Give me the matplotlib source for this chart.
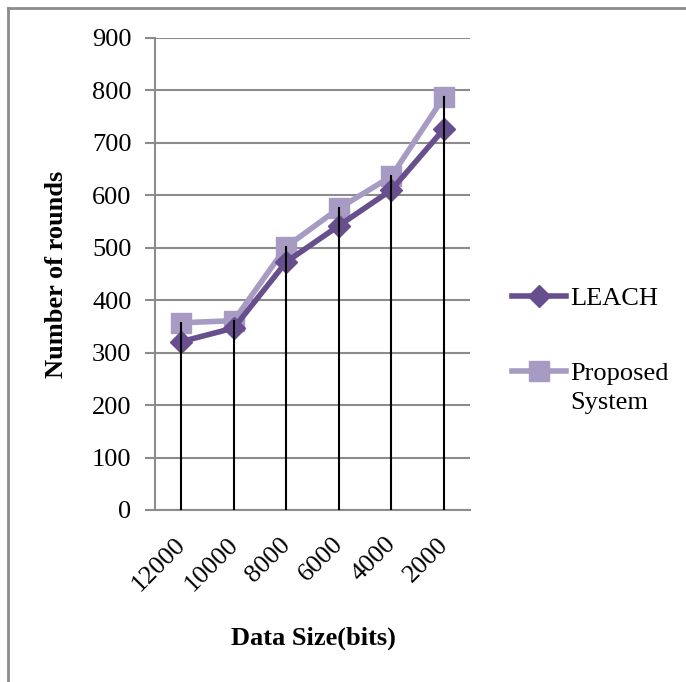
import matplotlib
matplotlib.use("Agg")
import matplotlib.pyplot as plt
from matplotlib.lines import Line2D

plt.rcParams['font.family'] = 'Liberation Serif'

# data
sizes = ['12000', '10000', '8000', '6000', '4000', '2000']
leach = [321, 347, 473, 542, 610, 726]
proposed = [357, 361, 502, 575, 636, 787]

leach_col = '#674F8E'
prop_col = '#A79AC3'
grid_col = '#8C8C8C'

fig = plt.figure(figsize=(6.86, 6.82), dpi=100)
W, H = 686, 682
ax = fig.add_axes([155 / W, 1 - 510 / H, 315 / W, 472 / H])

x = range(len(sizes))
# drop lines from the top point down to the axis
for i in x:
    ax.plot([i, i], [0, max(leach[i], proposed[i])], color='black', lw=1.5, zorder=4)

ax.plot(x, leach, color=leach_col, lw=4, marker='D', ms=11, zorder=3, label='LEACH')
ax.plot(x, proposed, color=prop_col, lw=4, marker='s', ms=15, zorder=2, label='Proposed System')

ax.set_xlim(-0.5, len(sizes) - 0.5)
ax.set_ylim(0, 900)
ax.set_yticks(range(0, 901, 100))
ax.grid(axis='y', color=grid_col, lw=1.5)
ax.set_axisbelow(True)
for s in ['top', 'right']:
    ax.spines[s].set_visible(False)
ax.spines['left'].set_color(grid_col)
ax.spines['left'].set_linewidth(1.5)
ax.spines['bottom'].set_color(grid_col)
ax.spines['bottom'].set_linewidth(1.5)
ax.tick_params(axis='y', length=7, width=1.5, color=grid_col, labelsize=19, pad=10)
ax.tick_params(axis='x', length=0, labelsize=19, pad=6)
ax.set_xticks(list(x))
ax.set_xticklabels(sizes, rotation=45, ha='right', va='top', rotation_mode='anchor')
for lbl in ax.get_xticklabels():
    lbl.set_transform(lbl.get_transform() + matplotlib.transforms.ScaledTranslation(-0.07, -0.15, fig.dpi_scale_trans))

fig.text(57 / W, 1 - 274 / H, 'Number of rounds', rotation=90, ha='center', va='center',
         fontsize=19, fontweight='bold')
fig.text(313 / W, 1 - 638 / H, 'Data Size(bits)', ha='center', va='center',
         fontsize=19, fontweight='bold')

# legend: second label wraps with the handle on its first line, as in the source
handles = [Line2D([], [], color=leach_col, lw=4, marker='D', ms=11),
           Line2D([], [], color=prop_col, lw=4, marker='s', ms=15)]
leg = fig.legend(handles, ['LEACH', 'Proposed'], loc='upper left',
                 bbox_to_anchor=(488 / W, 1 - 263 / H), frameon=False, fontsize=19,
                 handlelength=2.05, handletextpad=0.15, labelspacing=1.95)
fig.text(570 / W, 1 - 403 / H, 'System', ha='left', va='center', fontsize=19)

# outer frame (top and left only visible)
fig.add_artist(Line2D([8 / W, 8 / W], [0, 1 - 8 / H], color=grid_col, lw=2))
fig.add_artist(Line2D([8 / W, 1], [1 - 8 / H, 1 - 8 / H], color=grid_col, lw=2))

fig.savefig('out.png', dpi=100)
